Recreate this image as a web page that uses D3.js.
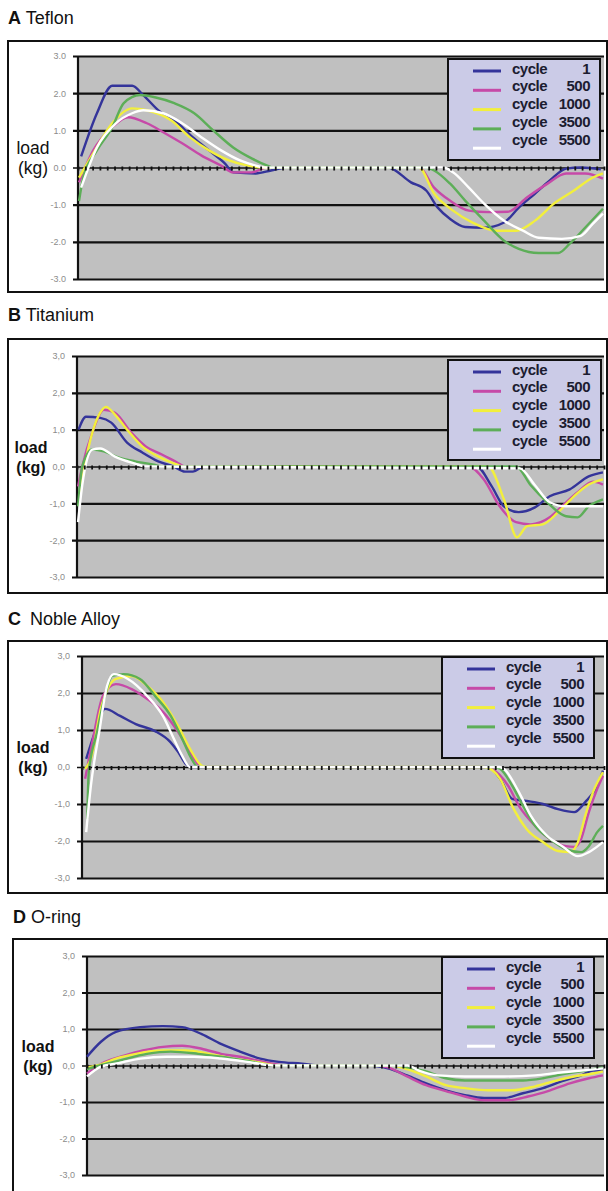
<!DOCTYPE html>
<html><head><meta charset="utf-8">
<script src="https://cdn.jsdelivr.net/npm/d3@7"></script>
<style>body{margin:0;background:#fff}svg{display:block}</style>
</head><body>
<svg id="c" width="608" height="1191"></svg>
<script>
// ---------- data ----------
const panelLetters = ["A", "B", "C", "D"];
const panelNames = ["Teflon", "Titanium", "Noble Alloy", "O-ring"];
const legendWord = "cycle";
const cycleNumbers = ["1", "500", "1000", "3500", "5500"];
const yTickValues = [-3, -2, -1, 0, 1, 2, 3];
const yAxisLabel = ["load", "(kg)"];
// x = position along the test cycle (% of recorded window), y = load in kg
const teflon1 = [[0.6,0.3],[3.6,1.46],[6.5,2.2],[10.3,2.2],[12.4,1.95],[15.6,1.5],[18.3,1.27],[22.1,0.78],[24.9,0.46],[28,0.1],[29.5,-0.13],[33.8,-0.16],[36.7,-0.08],[39.7,0],[58.9,0],[63.3,-0.4],[66.2,-0.62],[68.4,-1.08],[70.7,-1.38],[73.6,-1.6],[77.2,-1.62],[81,-1.48],[83.8,-1.08],[86.9,-0.7],[89.7,-0.35],[92.8,-0.03],[95.6,0],[99.4,-0.05]];
const teflon500 = [[0.2,-0.4],[2.9,0.46],[6.5,1.08],[9.5,1.35],[13.1,1.19],[16.2,0.95],[19.8,0.65],[23.5,0.32],[27.2,0.05],[29.5,-0.13],[33,-0.13],[36,0],[64.8,0],[67.7,-0.54],[70.7,-0.89],[74.3,-1.16],[78,-1.2],[81.7,-1.19],[85.4,-0.8],[89.2,-0.44],[92.8,-0.16],[96.4,-0.16],[99.8,-0.3]];
const teflon1000 = [[0.2,-0.27],[2.9,0.38],[6.5,1.19],[10.3,1.59],[13.1,1.54],[17.7,1.27],[21.3,0.81],[24.9,0.46],[28.7,0.19],[32.3,0.05],[35.3,0],[64.8,0],[67.7,-0.7],[71.3,-1.16],[75.1,-1.49],[79.5,-1.7],[83.3,-1.7],[86.9,-1.43],[90.5,-0.97],[94.3,-0.62],[97.9,-0.27],[99.8,-0.16]];
const teflon3500 = [[0.2,-0.9],[1,-0.27],[3.6,0.46],[6.5,1.08],[8.7,1.73],[11.8,1.95],[14.6,1.89],[18.3,1.73],[22.1,1.46],[25.7,1.0],[29.5,0.54],[33.1,0.24],[36,0.05],[37,0],[66,0],[67.7,-0.08],[70.7,-0.43],[73.6,-0.89],[77.2,-1.43],[81,-1.97],[83.8,-2.19],[87.6,-2.3],[91.3,-2.3],[93.5,-2.05],[96.4,-1.62],[99.8,-1.11]];
const teflon5500 = [[0.6,-0.54],[3.6,0.54],[7.2,1.19],[10.3,1.46],[12.4,1.54],[16.2,1.46],[19.8,1.19],[23.5,0.81],[27.2,0.46],[30.8,0.19],[33.8,0.05],[35.5,0],[69.5,0],[71.3,-0.13],[74.3,-0.54],[77.2,-0.97],[81,-1.43],[84.6,-1.7],[87.6,-1.89],[92,-1.92],[95.6,-1.84],[97.9,-1.51],[99.8,-1.24]];

const titanium1 = [[0.3,1.0],[1.7,1.35],[4.4,1.32],[6.5,1.19],[9.5,0.65],[12.4,0.38],[15.4,0.14],[18.3,0],[20.5,-0.14],[22,-0.14],[24.1,0],[75.8,0],[78.7,-0.54],[81,-1.08],[83.8,-1.24],[86.9,-1.11],[89.7,-0.81],[93.5,-0.62],[97.1,-0.27],[99.8,-0.16]];
const titanium500 = [[0.2,-0.54],[1,0],[2.9,0.92],[5.1,1.54],[7.2,1.46],[10.3,0.92],[13.1,0.54],[16.2,0.32],[19,0.11],[20.5,0],[74.3,0],[77.2,-0.35],[80.2,-1.08],[83.3,-1.51],[86.1,-1.57],[89.7,-1.38],[92,-1.08],[95,-0.7],[97.9,-0.41],[99.8,-0.49]];
const titanium1000 = [[0.6,-0.7],[2.1,0.46],[4.4,1.46],[5.5,1.62],[7.2,1.41],[9.5,1.0],[12.4,0.54],[15.4,0.27],[19,0.05],[20,0],[78,0],[81,-0.89],[83.5,-1.92],[85.4,-1.62],[88.4,-1.57],[91.3,-1.24],[94.3,-0.81],[97.1,-0.49],[99.8,-0.35]];
const titanium3500 = [[0.2,-1.08],[1,0],[2.9,0.46],[5.1,0.41],[8,0.24],[11,0.14],[14.6,0.05],[16,0],[83.3,0],[86.1,-0.51],[89.2,-0.97],[92.8,-1.35],[95,-1.38],[97.1,-1.08],[99.8,-0.89]];
const titanium5500 = [[0.2,-1.51],[1,-0.5],[2.9,0.46],[4.4,0.49],[7.2,0.27],[11,0.08],[13,0],[84,-0.05],[86.9,-0.51],[89.7,-0.97],[92.8,-1.08],[95.6,-1.08],[99.8,-1.08]];

const noble1 = [[0.8,0.22],[2.5,0.95],[4.4,1.57],[7.3,1.38],[10.3,1.16],[14,0.97],[16.9,0.68],[18.4,0.41],[19.9,0.08],[21,0],[77.8,0],[80.1,-0.32],[82.4,-0.86],[85.2,-0.92],[88.3,-1.0],[91.2,-1.14],[94.3,-1.22],[96.4,-0.95],[98.7,-0.51],[99.8,-0.1]];
const noble500 = [[0.6,-0.32],[2.1,0.76],[4,1.92],[6.5,2.24],[9.6,2.1],[12.5,1.84],[15.5,1.49],[18.4,0.95],[20.7,0.41],[22.2,0.08],[23,0],[77.5,0],[78.5,-0.05],[81.6,-0.5],[83.7,-1.05],[86.8,-1.59],[89.7,-1.95],[92.7,-2.14],[94.3,-2.16],[95.6,-1.95],[97.1,-1.22],[98.7,-0.59],[99.8,-0.24]];
const noble1000 = [[0.6,-0.05],[1.7,0.22],[3.6,1.57],[5.2,2.19],[6.5,2.38],[9.6,2.46],[12.5,2.19],[15.5,1.76],[18.4,1.11],[20.7,0.49],[23,0.03],[24,0],[77,0],[80.1,-0.32],[82.4,-1.05],[85.2,-1.68],[88.3,-2.03],[91.2,-2.27],[93.5,-2.3],[95,-2.03],[96.4,-1.32],[97.9,-0.68],[99.8,-0.14]];
const noble3500 = [[1,-1.41],[1.3,-0.14],[2.9,0.95],[4.4,1.92],[5.8,2.46],[8,2.51],[11.1,2.38],[14,1.92],[17,1.38],[19.2,0.76],[21,0.22],[22.2,0],[79,0],[80.1,-0.05],[82.4,-0.5],[84.5,-1.05],[86.8,-1.59],[89.7,-1.95],[92.7,-2.22],[95.6,-2.3],[97.1,-2.14],[98.7,-1.76],[99.8,-1.59]];
const noble5500 = [[0.8,-1.76],[1.7,-0.51],[3.3,0.95],[4.8,2.19],[6.1,2.51],[8.8,2.38],[12.5,1.92],[15.5,1.38],[17.6,0.76],[19.2,0.3],[20.7,0],[80,0],[80.8,-0.05],[83.7,-0.68],[86,-1.32],[89.1,-1.86],[92,-2.14],[95,-2.41],[97.1,-2.3],[99.8,-2.03]];

const oring1 = [[0,0.24],[2.7,0.65],[5.6,0.92],[10.3,1.05],[14.7,1.08],[18.4,1.05],[22.2,0.86],[25.9,0.59],[29.6,0.38],[33.5,0.19],[37.1,0.1],[41.6,0.05],[45,0],[54.4,0],[58.2,-0.08],[61.9,-0.27],[65.6,-0.49],[69.4,-0.68],[73.1,-0.81],[76.8,-0.89],[80.7,-0.89],[84.3,-0.76],[88.2,-0.62],[91.9,-0.43],[95.6,-0.27],[97.9,-0.14],[99.8,-0.14]];
const oring500 = [[0,-0.22],[3.5,0.1],[7.2,0.27],[10.8,0.41],[14.7,0.51],[18.4,0.54],[22.2,0.46],[25.9,0.32],[29.6,0.24],[34.2,0.1],[38.7,0],[56,0],[58.2,-0.05],[61.9,-0.3],[65.6,-0.54],[69.4,-0.7],[73.1,-0.85],[76.8,-0.95],[81.4,-0.95],[85.3,-0.85],[89.6,-0.68],[93.4,-0.49],[97.1,-0.35],[99.8,-0.27]];
const oring1000 = [[0,-0.05],[2.7,0.03],[5.6,0.19],[9.5,0.32],[14.7,0.41],[19.1,0.41],[23.6,0.32],[28.2,0.19],[32.7,0.1],[37,0],[59,0],[61.9,-0.1],[65.6,-0.3],[69.4,-0.54],[73.1,-0.62],[77.6,-0.68],[82.2,-0.68],[86.7,-0.57],[90.3,-0.43],[94.2,-0.3],[97.9,-0.22],[99.8,-0.16]];
const oring3500 = [[0,-0.1],[3,0.02],[6.4,0.14],[11.6,0.32],[16.2,0.38],[21.5,0.32],[25.9,0.24],[32,0.1],[36,0],[60,0],[61.9,-0.05],[65.6,-0.16],[69.4,-0.35],[73.1,-0.41],[78.8,-0.41],[84.3,-0.41],[88.2,-0.35],[91.9,-0.24],[95.6,-0.16],[99.8,-0.05]];
const oring5500 = [[0,-0.3],[2.7,-0.03],[5.6,0.05],[10.3,0.19],[15.4,0.24],[20.7,0.24],[25.9,0.19],[32,0.08],[36,0],[62,0],[64.2,-0.14],[67.9,-0.27],[73.1,-0.3],[80.7,-0.3],[86.7,-0.27],[91.1,-0.2],[95.6,-0.14],[99.8,-0.08]];

const panelSeries = [
  [teflon1, teflon500, teflon1000, teflon3500, teflon5500],
  [titanium1, titanium500, titanium1000, titanium3500, titanium5500],
  [noble1, noble500, noble1000, noble3500, noble5500],
  [oring1, oring500, oring1000, oring3500, oring5500]
];

// ---------- style / layout ----------
const colors = ["#34349a", "#c64aa8", "#f2ef3c", "#5dae58", "#ffffff"];
const layouts = [
  {titleY: 24, box: [8, 41, 599, 251], plot: [78, 56, 604, 279], legend: [448, 59, 152, 101], sep: ".", labelX: 33, weight: "normal", lsize: 17.5, gap: " "},
  {titleY: 321, box: [8, 339, 599, 254], plot: [77, 356, 604, 577], legend: [448, 360, 153, 100], sep: ",", labelX: 31, weight: "bold", lsize: 16, gap: " "},
  {titleY: 625, box: [8, 641, 599, 252], plot: [82, 656, 604, 878], legend: [442, 657, 152, 101], sep: ",", labelX: 33, weight: "bold", lsize: 16, gap: "\u2002"},
  {titleY: 923, box: [13, 939, 594, 262], plot: [87, 956, 604, 1175], legend: [442, 957, 152, 101], sep: ",", labelX: 38, weight: "bold", lsize: 16, gap: " "}
];
const FONT = "'Liberation Sans', Arial, sans-serif";
const svg = d3.select("#c");
const xTickCount = 72;

layouts.forEach((L, p) => {
  const g = svg.append("g");
  const [pl, pt, pr, pb] = L.plot;
  const x = d3.scaleLinear().domain([0, 100]).range([pl, pr]);
  const y = d3.scaleLinear().domain([-3, 3]).range([pb, pt]);

  // title
  const t = g.append("text").attr("x", L.box[0]).attr("y", L.titleY)
    .attr("font-family", FONT).attr("font-size", 18).attr("fill", "#111");
  t.append("tspan").attr("font-weight", "bold").text(panelLetters[p]);
  t.append("tspan").text(L.gap + panelNames[p]);

  // outer box
  g.append("rect").attr("x", L.box[0]).attr("y", L.box[1]).attr("width", L.box[2]).attr("height", L.box[3])
    .attr("fill", "#fff").attr("stroke", "#111").attr("stroke-width", 2);
  // plot area
  g.append("rect").attr("x", pl).attr("y", pt).attr("width", pr - pl).attr("height", pb - pt)
    .attr("fill", "#c0c0c0");

  // y axis with gridlines
  const ya = g.append("g").attr("transform", `translate(${pl - 5},0)`)
    .call(d3.axisLeft(y).tickValues(yTickValues).tickSizeInner(-(pr - pl + 5)).tickSizeOuter(0).tickPadding(7)
      .tickFormat(d => d.toFixed(1).replace(".", L.sep)));
  ya.select(".domain").remove();
  ya.selectAll(".tick line").attr("stroke", "#111").attr("stroke-width", d => d === 0 ? 1.6 : 2.2);
  ya.selectAll(".tick text").attr("font-family", FONT).attr("font-size", 9).attr("fill", "#8c8c8c");
  // vertical axis line
  g.append("line").attr("x1", pl).attr("x2", pl).attr("y1", pt).attr("y2", pb)
    .attr("stroke", "#111").attr("stroke-width", 2.2);

  // y label
  g.append("text").attr("x", L.labelX).attr("y", y(0) - 14).attr("text-anchor", "middle")
    .attr("font-family", FONT).attr("font-size", L.lsize).attr("font-weight", L.weight).attr("fill", "#111").text(yAxisLabel[0]);
  g.append("text").attr("x", L.labelX).attr("y", y(0) + 6).attr("text-anchor", "middle")
    .attr("font-family", FONT).attr("font-size", L.lsize).attr("font-weight", L.weight).attr("fill", "#111").text(yAxisLabel[1]);

  // series
  const line = d3.line().x(d => x(d[0])).y(d => y(d[1])).curve(d3.curveMonotoneX);
  panelSeries[p].forEach((s, i) => {
    g.append("path").datum(s).attr("d", line).attr("fill", "none")
      .attr("stroke", colors[i]).attr("stroke-width", 2.4).attr("stroke-linejoin", "round");
  });

  // category axis ticks on the zero line
  const tickVals = d3.range(xTickCount + 1).map(i => i * 100 / xTickCount);
  const xa = g.append("g").attr("transform", `translate(0,${y(0)})`)
    .call(d3.axisBottom(x).tickValues(tickVals).tickSizeInner(3).tickSizeOuter(0).tickFormat(""));
  xa.select(".domain").remove();
  xa.selectAll(".tick line").attr("stroke", "#111").attr("stroke-width", 1.8).attr("y1", -1);

  // legend
  const [lx, ly, lw, lh] = L.legend;
  const lg = g.append("g");
  lg.append("rect").attr("x", lx).attr("y", ly).attr("width", lw).attr("height", lh)
    .attr("fill", "#cbcbe7").attr("stroke", "#111").attr("stroke-width", 2);
  cycleNumbers.forEach((n, i) => {
    lg.append("line").attr("x1", lx + 25).attr("x2", lx + 53)
      .attr("y1", ly + 12 + i * 19.3).attr("y2", ly + 12 + i * 19.3)
      .attr("stroke", colors[i]).attr("stroke-width", 3);
    lg.append("text").attr("x", lx + 64).attr("y", ly + 14.5 + i * 17.8)
      .attr("font-family", FONT).attr("font-size", 15).attr("font-weight", "bold").attr("letter-spacing", -0.5)
      .attr("fill", "#1c1c30").text(legendWord);
    lg.append("text").attr("x", lx + 142).attr("y", ly + 14.5 + i * 17.8).attr("text-anchor", "end")
      .attr("font-family", FONT).attr("font-size", 15).attr("font-weight", "bold").attr("letter-spacing", -0.5)
      .attr("fill", "#1c1c30").text(n);
  });
});
</script>
</body></html>
